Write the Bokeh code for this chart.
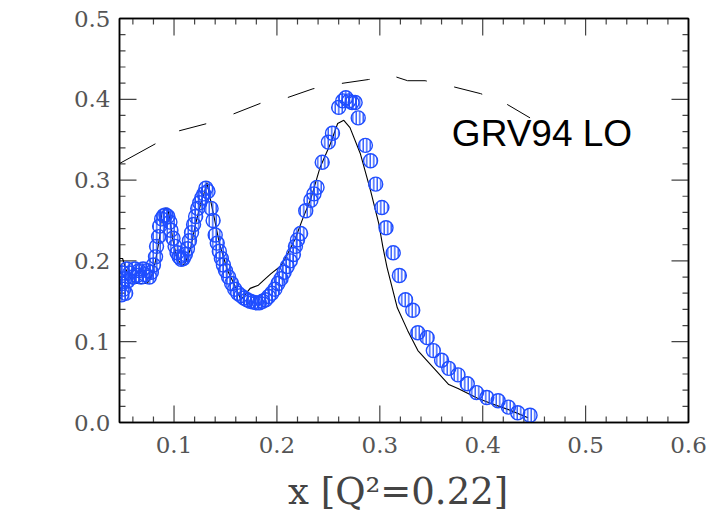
from bokeh.plotting import figure
from bokeh.models import (ColumnDataSource, LinearAxis, FixedTicker, Label,
                          CustomJSTickFormatter, Range1d)
from bokeh.embed import file_html
from bokeh.resources import INLINE
import numpy as np

# Measured F2 at Q^2 = 0.22 (blue hatched circles)
data_x = [0.049, 0.049, 0.050, 0.051, 0.052, 0.053, 0.054, 0.055,
          0.057, 0.060, 0.062, 0.064, 0.066, 0.068, 0.070, 0.072, 0.074, 0.076, 0.078,
          0.080, 0.082, 0.083, 0.085, 0.086, 0.088, 0.090,
          0.092, 0.094, 0.096, 0.097,
          0.099, 0.101, 0.103, 0.105, 0.107, 0.109, 0.111, 0.113,
          0.115, 0.117, 0.119, 0.121, 0.123, 0.125, 0.127, 0.129, 0.131, 0.133,
          0.136, 0.138, 0.140, 0.142, 0.144, 0.146, 0.148, 0.150, 0.153, 0.156,
          0.159, 0.162, 0.165, 0.168, 0.171, 0.174, 0.177, 0.180, 0.183, 0.186, 0.189,
          0.192, 0.195, 0.198, 0.201, 0.204, 0.207, 0.210, 0.213, 0.216, 0.218,
          0.220, 0.223, 0.228, 0.233, 0.236, 0.239, 0.244, 0.250, 0.254, 0.260,
          0.264, 0.267, 0.270, 0.273, 0.276, 0.279, 0.286, 0.291, 0.296, 0.302,
          0.306, 0.313, 0.319, 0.325, 0.332, 0.337, 0.346, 0.352, 0.360, 0.367,
          0.376, 0.385, 0.394, 0.404, 0.415, 0.425, 0.434, 0.446]
data_f2 = [0.158, 0.172, 0.185, 0.165, 0.178, 0.160, 0.190, 0.175,
           0.185, 0.180, 0.190, 0.182, 0.188, 0.180, 0.190, 0.183, 0.188, 0.180, 0.186,
           0.195, 0.205, 0.218, 0.230, 0.243, 0.252, 0.256,
           0.257, 0.255, 0.248, 0.238,
           0.228, 0.218, 0.210, 0.205, 0.202, 0.203, 0.208, 0.215,
           0.225, 0.235, 0.245, 0.255, 0.265, 0.272, 0.278, 0.283, 0.290, 0.286,
           0.265, 0.250, 0.232, 0.222, 0.212, 0.203, 0.195, 0.188, 0.180, 0.172,
           0.165, 0.160, 0.157, 0.154, 0.152, 0.150, 0.149, 0.148, 0.148, 0.150, 0.152,
           0.156, 0.160, 0.165, 0.172, 0.178, 0.186, 0.193, 0.200, 0.208, 0.218,
           0.226, 0.234, 0.262, 0.275, 0.283, 0.291, 0.322, 0.347, 0.358, 0.390,
           0.398, 0.402, 0.398, 0.396, 0.396, 0.377, 0.343, 0.324, 0.295, 0.266,
           0.241, 0.210, 0.182, 0.152, 0.139, 0.111, 0.105, 0.089, 0.077, 0.067,
           0.059, 0.048, 0.037, 0.031, 0.027, 0.019, 0.012, 0.009]

# Resonance-region model curve (solid black)
model_x = [0.047, 0.050, 0.053, 0.057, 0.062, 0.074, 0.079, 0.082, 0.086, 0.088,
           0.091, 0.094, 0.096, 0.099, 0.103, 0.108, 0.111, 0.116, 0.121, 0.126,
           0.130, 0.132, 0.135, 0.139, 0.144, 0.152, 0.160, 0.165, 0.174, 0.182,
           0.187, 0.194, 0.204, 0.211, 0.218, 0.225, 0.233, 0.242, 0.252, 0.259,
           0.265, 0.271, 0.281, 0.291, 0.299, 0.303, 0.307, 0.317, 0.327, 0.337,
           0.352, 0.367, 0.376, 0.395, 0.407, 0.427, 0.444]
model_f2 = [0.203, 0.203, 0.190, 0.180, 0.172, 0.172, 0.184, 0.200, 0.229, 0.259,
            0.265, 0.265, 0.250, 0.225, 0.203, 0.194, 0.198, 0.215, 0.246, 0.271,
            0.287, 0.297, 0.278, 0.254, 0.222, 0.188, 0.167, 0.152, 0.166, 0.170,
            0.176, 0.184, 0.194, 0.210, 0.228, 0.252, 0.277, 0.316, 0.345, 0.370,
            0.374, 0.365, 0.333, 0.287, 0.246, 0.217, 0.192, 0.142, 0.114, 0.089,
            0.068, 0.047, 0.042, 0.030, 0.024, 0.015, 0.006]

# GRV94 LO parton-model curve (dashed black)
grv_x = [0.047, 0.082, 0.105, 0.132, 0.158, 0.184, 0.210, 0.235, 0.262, 0.289,
         0.315, 0.327, 0.344, 0.370, 0.398, 0.422, 0.446]
grv_f2 = [0.3205, 0.345, 0.361, 0.370, 0.382, 0.395, 0.402, 0.413, 0.4195, 0.4245,
          0.428, 0.423, 0.423, 0.416, 0.407, 0.395, 0.377]

x_ticks = [0.1, 0.2, 0.3, 0.4, 0.5, 0.6]
y_ticks = [0.0, 0.1, 0.2, 0.3, 0.4, 0.5]

X_LO, X_HI = 0.047, 0.6
Y_LO, Y_HI = 0.0, 0.5

BLUE = "#1f4dff"
TICK_COLOR = "#444444"
TICK_FONT = "DejaVu Serif"

p = figure(width=709, height=523, output_backend="svg", toolbar_location=None,
           x_range=Range1d(X_LO, X_HI), y_range=Range1d(Y_LO, Y_HI),
           min_border_left=119, min_border_right=21, min_border_top=18,
           min_border_bottom=101, x_axis_location=None, y_axis_location=None)
p.xgrid.visible = False
p.ygrid.visible = False
p.outline_line_color = "black"
p.outline_line_width = 1.5
p.background_fill_color = "white"
p.border_fill_color = "white"

x_minor = [round(v, 2) for v in np.arange(0.06, 0.6, 0.02) if round(v, 2) not in x_ticks]
y_minor = [round(v, 2) for v in np.arange(0.02, 0.5, 0.02) if round(v, 2) not in y_ticks]


def make_axis(ticks, labelled):
    ax = LinearAxis(ticker=FixedTicker(ticks=ticks))
    ax.major_tick_in = 0
    ax.major_tick_out = 0
    ax.minor_tick_in = 0
    ax.minor_tick_out = 0
    ax.axis_line_color = "black"
    ax.axis_line_width = 1.5
    if labelled:
        ax.major_label_overrides = {t: f"{t:.1f}" for t in ticks}
        ax.major_label_text_font = TICK_FONT
        ax.major_label_text_font_size = "23px"
        ax.major_label_text_color = "#555555"
    else:
        ax.formatter = CustomJSTickFormatter(code="return ''")
        ax.major_label_text_font_size = "1px"
        ax.major_label_standoff = 0
    return ax


bottom = make_axis(x_ticks, True)
bottom.major_label_standoff = 14
bottom.axis_label = "x  [Q²=0.22]"
bottom.axis_label_text_font = TICK_FONT
bottom.axis_label_text_font_style = "normal"
bottom.axis_label_text_font_size = "37px"
bottom.axis_label_text_color = "#444444"
bottom.axis_label_standoff = 14
p.add_layout(bottom, "below")

left = make_axis(y_ticks, True)
left.major_label_standoff = 9
p.add_layout(left, "left")

p.add_layout(make_axis(x_ticks, False), "above")
p.add_layout(make_axis(y_ticks, False), "right")

# inward tick marks on all four sides of the frame
for ticks, length in ((x_ticks, 17), (x_minor, 6)):
    n = len(ticks)
    p.ray(x=ticks, y=[Y_LO] * n, length=length, length_units="screen",
          angle=np.pi / 2, line_color=TICK_COLOR, line_width=1.2)
    p.ray(x=ticks, y=[Y_HI] * n, length=length, length_units="screen",
          angle=-np.pi / 2, line_color=TICK_COLOR, line_width=1.2)
for ticks, length in ((y_ticks, 17), (y_minor, 6)):
    n = len(ticks)
    p.ray(x=[X_LO] * n, y=ticks, length=length, length_units="screen",
          angle=0, line_color=TICK_COLOR, line_width=1.2)
    p.ray(x=[X_HI] * n, y=ticks, length=length, length_units="screen",
          angle=np.pi, line_color=TICK_COLOR, line_width=1.2)

# GRV94 LO curve
p.line(grv_x, grv_f2, line_color="black", line_width=1.0,
       line_dash="41 27 28 29 29 28 28 28 28 27 31 28 29 27 29 60")

# model curve
p.line(model_x, model_f2, line_color="black", line_width=1.1)

# data points: open circles with vertical hatching
src = ColumnDataSource(dict(x=data_x, y=data_f2))
p.scatter("x", "y", source=src, marker="circle", size=14,
          fill_color=None, line_color=BLUE, line_width=1.4,
          hatch_pattern="vertical_line", hatch_color=BLUE,
          hatch_scale=3.5, hatch_weight=1.3)

p.add_layout(Label(x=0.370, y=0.358, text="GRV94 LO",
                   text_font="Liberation Sans", text_font_size="37px",
                   text_color="black", text_align="left",
                   text_baseline="alphabetic"))

p.add_layout(Label(x=-0.036, y=0.454, text="F2",
                   text_font="Liberation Sans", text_font_size="29px",
                   text_color="black", text_align="center",
                   text_baseline="middle"))

open("out.html", "w").write(file_html(p, INLINE))
